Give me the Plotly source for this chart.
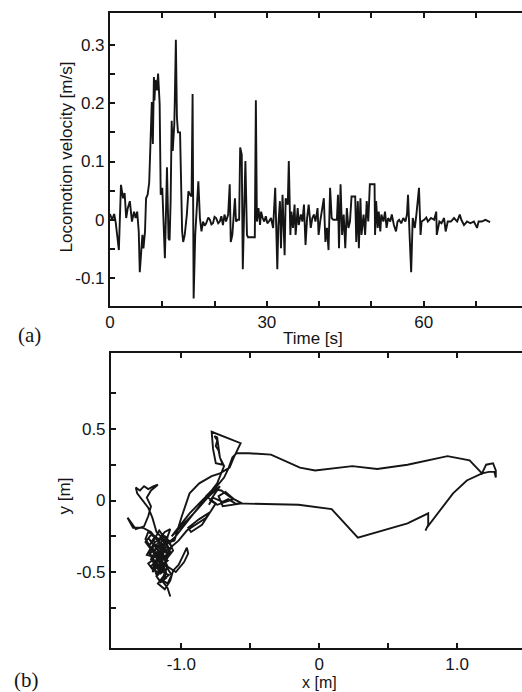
import plotly.graph_objects as go

# ---- (a) locomotion velocity over time ----
time_s = [
    0.0, 0.4, 0.8, 1.1, 1.7, 2.1, 2.5, 2.8, 3.1, 3.4, 3.8, 4.2, 4.6, 4.9, 5.2, 5.5, 5.7, 5.9,
    6.2, 6.4, 6.7, 6.9, 7.2, 7.5, 7.7, 8.0, 8.2, 8.4, 8.5, 8.7, 9.0, 9.2, 9.5, 9.7, 10.0,
    10.2, 10.5, 10.7, 10.9, 11.2, 11.4, 11.6, 11.8, 12.0, 12.3, 12.4, 12.6, 12.8, 13.0,
    13.4, 13.6, 13.8, 14.0, 14.3, 14.7, 15.0, 15.3, 15.6, 15.8, 16.0, 16.3, 16.5, 16.9,
    17.2, 17.5, 17.8, 18.1, 18.4, 18.8, 19.1, 19.4, 19.7, 20.0, 20.3, 20.7, 21.0, 21.3,
    21.6, 21.9, 22.2, 22.6, 22.9, 23.1, 23.4, 23.6, 23.9, 24.1, 24.4, 24.7, 24.9, 25.2,
    25.4, 25.7, 25.9, 26.2, 26.4, 27.7, 27.9, 28.1, 28.4, 28.7, 28.9, 29.2, 29.5, 29.8,
    30.1, 30.4, 30.8, 31.2, 31.6, 32.0, 32.2, 32.5, 32.7, 33.0, 33.4, 33.6, 34.0, 34.2,
    34.5, 34.7, 35.0, 35.3, 35.5, 35.9, 36.1, 36.5, 36.8, 37.1, 37.4, 37.7, 38.0, 38.4,
    38.7, 39.0, 39.3, 39.7, 39.9, 40.2, 40.6, 40.9, 41.2, 41.5, 41.8, 42.1, 42.4, 42.7,
    43.4, 43.6, 43.8, 44.1, 44.4, 44.7, 45.0, 45.3, 45.6, 45.9, 46.2, 46.9, 47.1, 47.4,
    47.6, 47.9, 48.1, 48.5, 48.8, 49.1, 49.4, 49.7, 50.6, 50.7, 50.9, 51.2, 51.4, 51.7,
    51.9, 52.3, 52.6, 52.9, 53.2, 53.6, 53.9, 54.3, 54.7, 55.0, 55.3, 55.7, 56.1, 56.5,
    56.8, 57.0, 57.3, 57.6, 57.9, 58.3, 58.6, 58.9, 59.1, 59.4, 59.6, 60.1, 60.5, 60.8,
    61.4, 62.0, 62.4, 62.5, 63.0, 63.4, 63.9, 64.2, 64.6, 65.2, 65.8, 66.4, 66.9, 67.2,
    67.7, 68.3, 68.9, 69.6, 70.2, 70.5, 71.1, 71.8, 72.4, 72.7,
]
velocity = [
    0.010, 0.000, 0.010, -0.005, -0.052, 0.060, 0.037, 0.046, 0.003, 0.020, 0.032, -0.003,
    0.014, 0.003, 0.014, -0.020, -0.090, -0.060, -0.026, -0.049, -0.020, 0.037, 0.043,
    0.064, 0.124, 0.202, 0.130, 0.245, 0.205, 0.240, 0.222, 0.251, 0.199, 0.043, 0.055,
    0.009, -0.066, 0.009, 0.090, -0.032, -0.035, 0.032, 0.170, 0.118, 0.164, 0.205,
    0.309, 0.176, 0.150, 0.150, 0.043, -0.020, -0.038, -0.026, 0.009, 0.049, 0.043,
    0.040, 0.216, -0.135, -0.026, 0.009, 0.066, 0.003, -0.020, -0.003, -0.010, -0.006,
    0.004, 0.000, -0.008, -0.006, 0.005, 0.003, -0.006, -0.003, 0.006, -0.009, 0.009,
    -0.003, 0.009, 0.061, -0.038, -0.026, 0.009, 0.037, -0.003, 0.000, 0.000, 0.124,
    0.112, -0.085, 0.032, 0.101, -0.026, -0.030, -0.030, 0.205, -0.003, 0.020, -0.009,
    0.014, 0.003, -0.003, 0.006, -0.006, -0.003, 0.003, -0.014, 0.055, -0.085, -0.009,
    0.032, -0.049, 0.043, -0.061, 0.037, 0.026, 0.101, -0.026, 0.014, -0.014, 0.026,
    -0.026, 0.020, -0.009, 0.009, -0.003, 0.026, -0.043, 0.003, 0.026, -0.014, 0.003,
    0.009, -0.003, 0.020, -0.026, -0.003, 0.020, 0.037, -0.038, -0.014, -0.052, 0.055,
    0.003, 0.000, 0.000, 0.043, -0.049, 0.061, -0.026, 0.009, -0.049, 0.020, -0.014,
    -0.003, 0.040, 0.040, -0.038, 0.032, -0.049, 0.037, -0.026, 0.009, -0.026, 0.032,
    -0.003, 0.061, 0.061, -0.026, 0.032, -0.014, 0.014, -0.020, 0.009, -0.003, 0.014,
    -0.014, 0.003, -0.003, 0.009, -0.009, -0.020, -0.003, 0.000, -0.006, 0.003, -0.003,
    0.009, 0.043, -0.026, -0.090, 0.003, -0.014, 0.009, 0.032, 0.055, -0.026, -0.003,
    0.000, 0.004, -0.003, 0.003, 0.000, 0.014, -0.026, -0.003, -0.006, 0.003, -0.020,
    -0.003, -0.003, 0.003, -0.003, 0.009, 0.000, -0.009, -0.003, -0.006, -0.003, -0.014,
    -0.003, -0.003, 0.000, -0.003, -0.004,
]

time_ticks = [0, 10, 20, 30, 40, 50, 60, 70]
time_labels = ["0", "", "", "30", "", "", "60", ""]
vel_ticks = [-0.1, -0.05, 0, 0.05, 0.1, 0.15, 0.2, 0.25, 0.3]
vel_labels = ["-0.1", "", "0", "", "0.1", "", "0.2", "", "0.3"]

# ---- (b) planar trajectory ----
path_x = [
    # dense wandering around the lower-left start region
    -1.08, -1.10, -1.14, -1.09, -1.16, -1.20, -1.13, -1.18, -1.22, -1.17, -1.11, -1.15,
    -1.21, -1.24, -1.19, -1.14, -1.10, -1.13, -1.17, -1.12, -1.08, -1.06, -1.02, -0.99,
    -0.96, -0.95, -0.98, -1.04, -1.09, -1.15, -1.19, -1.23, -1.26, -1.22, -1.16, -1.12,
    -1.08, -1.11, -1.16, -1.20, -1.18, -1.13, -1.10, -1.06, -1.09, -1.13,
    -1.15, -1.19, -1.23, -1.20, -1.24, -1.21, -1.17, -1.14, -1.18, -1.15, -1.11, -1.14,
    -1.19, -1.22, -1.18, -1.13, -1.16, -1.21, -1.18, -1.12, -1.09, -1.13, -1.17, -1.20,
    -1.16, -1.12, -1.14, -1.18, -1.22, -1.19, -1.15, -1.12, -1.16, -1.21, -1.23, -1.19,
    -1.15, -1.11, -1.09, -1.12, -1.15, -1.18, -1.14, -1.11, -1.13, -1.10, -1.07, -1.11,
    -1.16, -1.13, -1.10, -1.14, -1.17, -1.21, -1.18, -1.15, -1.17, -1.13, -1.10,
    -1.25, -1.22, -1.26, -1.24, -1.19, -1.23, -1.20, -1.16, -1.12, -1.07, -1.10, -1.14,
    -1.17, -1.12, -1.08, -1.11, -1.18,
    # excursion to the left
    -1.21, -1.24, -1.29, -1.32, -1.33, -1.30, -1.27, -1.24, -1.20, -1.17, -1.22, -1.25,
    -1.22, -1.24, -1.27, -1.33, -1.39, -1.35, -1.28, -1.22, -1.18, -1.14,
    # towards the upper box
    -1.05, -1.00, -0.94, -0.87, -0.78, -0.72, -0.65, -0.62,
    -0.57, -0.78, -0.77, -0.75, -0.70, -0.72, -0.73, -0.75, -0.74, -0.76, -0.74, -0.72,
    -0.69, -0.74, -0.82, -0.90, -0.98, -1.05, -1.10, -1.13, -1.08,
    -1.02, -0.96, -0.90, -0.82, -0.79, -0.87, -0.95, -0.93, -0.85, -0.78, -0.75,
    -0.82, -0.77, -0.71, -0.64, -0.56, -0.70, -0.73, -0.68, -0.62, -0.74, -0.79, -0.72,
    -0.80, -0.90, -1.00, -1.07, -1.03, -0.94, -0.84, -0.76,
    -0.69, -0.66, -0.63,
    # long loop to the right and back
    -0.60, -0.51, -0.35, -0.14, -0.03, 0.24, 0.42, 0.64, 0.93, 1.09, 1.18,
    1.21, 1.26, 1.28, 1.28, 1.27, 1.23, 1.18,
    1.07, 0.97, 0.85, 0.78, 0.77, 0.79, 0.79, 0.64, 0.28, 0.09, -0.15, -0.61,
    -0.66, -0.70, -0.77, -0.80,
]
path_y = [
    -0.67, -0.61, -0.56, -0.52, -0.49, -0.44, -0.40, -0.36, -0.41, -0.47, -0.43, -0.33,
    -0.30, -0.26, -0.32, -0.38, -0.46, -0.53, -0.58, -0.62, -0.56, -0.49, -0.45, -0.39,
    -0.33, -0.37, -0.43, -0.50, -0.47, -0.43, -0.38, -0.33, -0.29, -0.24, -0.27, -0.22,
    -0.20, -0.28, -0.36, -0.46, -0.52, -0.48, -0.40, -0.35, -0.28, -0.25,
    -0.30, -0.34, -0.37, -0.41, -0.44, -0.48, -0.45, -0.49, -0.53, -0.57, -0.54, -0.47,
    -0.43, -0.39, -0.37, -0.41, -0.45, -0.50, -0.46, -0.44, -0.38, -0.35, -0.39, -0.36,
    -0.31, -0.34, -0.40, -0.42, -0.46, -0.49, -0.51, -0.48, -0.43, -0.42, -0.35, -0.29,
    -0.27, -0.31, -0.36, -0.39, -0.36, -0.40, -0.44, -0.50, -0.56, -0.58, -0.52, -0.46,
    -0.40, -0.33, -0.26, -0.24, -0.30, -0.33, -0.38, -0.46, -0.50, -0.45, -0.42,
    -0.38, -0.33, -0.27, -0.22, -0.25, -0.31, -0.28, -0.21, -0.26, -0.32, -0.37, -0.30,
    -0.35, -0.41, -0.36, -0.29, -0.22,
    -0.12, -0.05, 0.01, 0.05, 0.09, 0.07, 0.10, 0.08, 0.10, 0.11, 0.07, 0.02,
    -0.04, -0.11, -0.18, -0.20, -0.12, -0.19, -0.19, -0.22, -0.27, -0.31,
    -0.28, -0.12, 0.05, 0.12, 0.17, 0.19, 0.23, 0.30,
    0.40, 0.48, 0.36, 0.26, 0.25, 0.30, 0.35, 0.38, 0.42, 0.45, 0.44, 0.30,
    0.24, 0.12, 0.02, -0.08, -0.18, -0.26, -0.30, -0.36, -0.33,
    -0.28, -0.21, -0.17, -0.12, -0.08, -0.13, -0.19, -0.22, -0.17, -0.07, -0.02,
    0.03, 0.08, 0.07, 0.02, -0.02, -0.04, 0.03, 0.06, 0.01, -0.03, 0.00, 0.10,
    0.03, -0.08, -0.18, -0.25, -0.20, -0.09, 0.01, 0.08,
    0.16, 0.22, 0.30,
    0.33, 0.33, 0.32, 0.23, 0.21, 0.24, 0.22, 0.25, 0.31, 0.28, 0.19,
    0.25, 0.26, 0.21, 0.16, 0.20, 0.20, 0.19,
    0.14, 0.05, -0.10, -0.19, -0.21, -0.17, -0.09, -0.16, -0.26, -0.06, -0.03, -0.02,
    0.01, -0.01, 0.02, -0.03,
]

x_ticks = [-1.0, -0.5, 0.0, 0.5, 1.0]
x_labels = ["-1.0", "", "0", "", "1.0"]
y_ticks = [-0.75, -0.5, -0.25, 0.0, 0.25, 0.5, 0.75]
y_labels = ["", "-0.5", "", "0", "", "0.5", ""]

INK = "#151515"
FONT = "Liberation Sans, Arial, Helvetica, sans-serif"

fig = go.Figure()
fig.add_trace(go.Scatter(x=time_s, y=velocity, mode="lines",
                         line=dict(color=INK, width=1.9),
                         xaxis="x", yaxis="y", showlegend=False))
fig.add_trace(go.Scatter(x=path_x, y=path_y, mode="lines",
                         line=dict(color=INK, width=1.9),
                         xaxis="x2", yaxis="y2", showlegend=False))

axis_common = dict(showline=True, linecolor=INK, linewidth=2, ticks="inside",
                   ticklen=5, tickwidth=1.5, tickcolor=INK, showgrid=False,
                   zeroline=False, tickfont=dict(family=FONT, size=17, color=INK))

W, H = 522, 692

fig.update_layout(
    width=W, height=H,
    margin=dict(l=0, r=0, t=0, b=0),
    paper_bgcolor="white", plot_bgcolor="white",
    font=dict(family=FONT, size=17, color=INK),
    xaxis=dict(domain=[106 / W, 1], range=[0, 78.8], tickmode="array",
               tickvals=time_ticks, ticktext=time_labels, mirror="allticks",
               anchor="y", **axis_common),
    yaxis=dict(domain=[1 - 306 / H, 1 - 13 / H], range=[-0.148, 0.355],
               tickmode="array", tickvals=vel_ticks, ticktext=vel_labels,
               mirror=False, anchor="x", **axis_common),
    xaxis2=dict(domain=[107 / W, 1], range=[-1.51, 1.47], tickmode="array",
                tickvals=x_ticks, ticktext=x_labels, mirror="allticks",
                anchor="y2", ticklabelstandoff=0, **axis_common),
    yaxis2=dict(domain=[1 - 648 / H, 1 - 353 / H], range=[-1.03, 1.03],
                tickmode="array", tickvals=y_ticks, ticktext=y_labels,
                mirror=False, anchor="x2", **axis_common),
)

def label(text, px, py, size=17, angle=0, family=FONT):
    fig.add_annotation(text=text, x=px / W, y=1 - py / H, xref="paper", yref="paper",
                       showarrow=False, textangle=angle, xanchor="center",
                       yanchor="middle", font=dict(family=family, size=size, color=INK))

SERIF = "Liberation Serif, Times New Roman, serif"
label("Locomotion velocity [m/s]", 62, 157, angle=-90)
label("Time [s]", 311, 338)
label("(a)", 25, 335, size=21, family=SERIF)
label("y [m]", 60, 496, angle=-90)
label("x [m]", 318, 682, size=16)
label("(b)", 22, 680, size=21, family=SERIF)

fig.write_html("out.html")
